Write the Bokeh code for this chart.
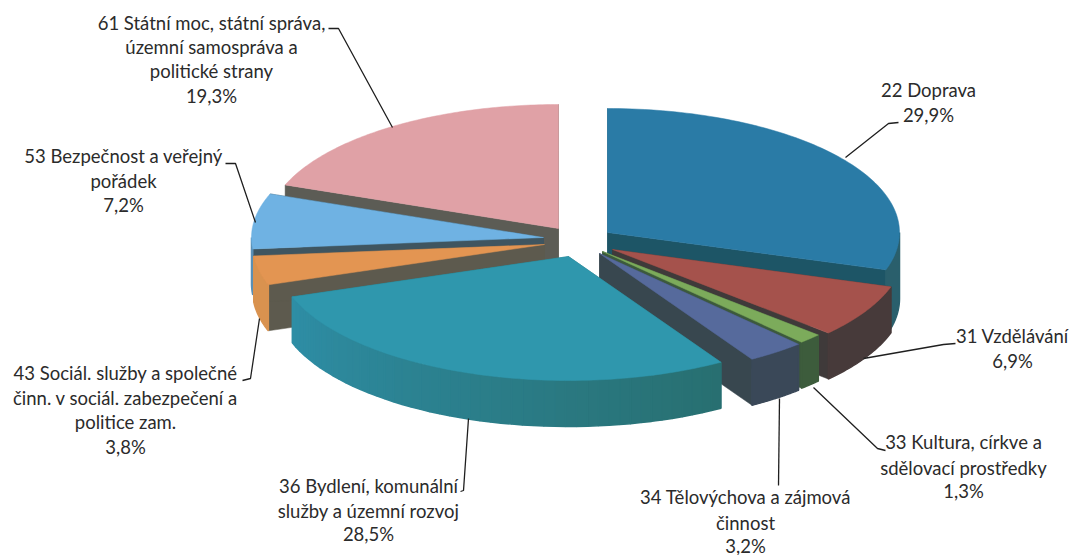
import numpy as np
from bokeh.plotting import figure
from bokeh.models import Range1d
from bokeh.core.properties import value
from bokeh.embed import file_html
from bokeh.resources import INLINE

# ---- data
codes = ["22", "31", "33", "34", "36", "43", "53", "61"]
shares = [29.9, 6.9, 1.3, 3.2, 28.5, 3.8, 7.2, 19.3]
label_lines = [
    ["22 Doprava", "29,9%"],
    ["31 Vzdělávání", "6,9%"],
    ["33 Kultura, církve a", "sdělovací prostředky", "1,3%"],
    ["34 Tělovýchova a zájmová", "činnost", "3,2%"],
    ["36 Bydlení, komunální", "služby a územní rozvoj", "28,5%"],
    ["43 Sociál. služby a společné", "činn. v sociál. zabezpečení a", "politice zam.", "3,8%"],
    ["53 Bezpečnost a veřejný", "pořádek", "7,2%"],
    ["61 Státní moc, státní správa,", "územní samospráva a", "politické strany", "19,3%"],
]

# ---- styling and layout (screen pixels of the picture)
W, H = 1069, 555
RX, RY = 292, 124
apex_x = [607, 612, 602, 599, 568, 544, 543, 558]
apex_y = [232, 249, 251, 253, 256, 244, 237, 228]
depths = [66, 46, 46, 46, 46, 46, 46, 46]
top_colors = ["#2a7ba6", "#a5524c", "#7cab5b", "#566a9c", "#2f97ad", "#e39552", "#6fb2e3", "#e0a1a6"]
cut_colors = ["#1d5566", "#3f3a3a", "#3c5a3c", "#38474f", "#2a7a80", "#5d5a4e", "#3f5560", "#5c5c55"]
rim_from = ["#2a5f6c", "#473a3a", "#3d5c3c", "#3a4858", "#2e8ea6", "#d9924f", "#5a8fb5", "#cc9096"]
rim_to = ["#2a5f6c", "#473a3a", "#3d5c3c", "#3a4858", "#286f70", "#d9924f", "#5a8fb5", "#cc9096"]
order = [7, 6, 5, 0, 1, 2, 3, 4]  # back to front

label_x = [928, 1012, 963, 745, 368, 125, 123, 211]
label_y = [[89, 114], [335, 360], [441, 467, 490], [496, 522, 545], [485, 510, 533],
           [372, 397, 421, 446], [155, 180, 204], [22, 46, 70, 95]]
leaders = [
    ([845, 888, 898], [157, 123, 122]),
    ([863, 943, 955], [358, 344, 343]),
    ([813, 877, 885], [387, 448, 450]),
    ([779, 778], [398, 485]),
    ([468, 463, 460], [418, 490, 491]),
    ([259, 250, 242], [318, 378, 380]),
    ([255, 235, 225], [222, 163, 163]),
    ([392, 338, 328], [127, 28, 28]),
]

FONT = "Lato"
FONT_SIZE = "18.5px"
TEXT_COLOR = "#2b2b2b"
LEADER = "#1f1f1f"

p = figure(width=W, height=H, x_range=Range1d(0, W), y_range=Range1d(H, 0),
           toolbar_location=None, output_backend="svg", min_border=0)
p.axis.visible = False
p.grid.visible = False
p.outline_line_color = None


def rim(i, t):
    return apex_x[i] + RX * np.sin(t), apex_y[i] - RY * np.cos(t)


def hex_mix(c1, c2, f):
    a = [int(c1[k:k + 2], 16) for k in (1, 3, 5)]
    b = [int(c2[k:k + 2], 16) for k in (1, 3, 5)]
    return "#%02x%02x%02x" % tuple(int(round(u + (v - u) * f)) for u, v in zip(a, b))


edges = np.radians(np.concatenate([[0.0], np.cumsum(shares)]) / sum(shares) * 360.0)

for i in order:
    t0, t1 = edges[i], edges[i + 1]
    d = depths[i]
    ax, ay = apex_x[i], apex_y[i]
    # cut faces that look towards the viewer
    for t in (t0, t1):
        rx, ry = rim(i, t)
        p.patch([ax, rx, rx, ax], [ay, ry, ry + d, ay + d], fill_color=cut_colors[i],
                line_color=cut_colors[i], line_width=0.5)
    # outer wall: only the front half of the rim can be seen
    lo, hi = max(t0, np.pi / 2), min(t1, 3 * np.pi / 2)
    if hi > lo:
        n = 1 if rim_from[i] == rim_to[i] else 48
        steps = np.linspace(lo, hi, n + 1)
        for k in range(n):
            ts = np.linspace(steps[k], steps[k + 1], 40 // n + 2)
            xs, ys = rim(i, ts)
            f = 1 - (k + 0.5) / n
            col = hex_mix(rim_from[i], rim_to[i], f)
            p.patch(list(xs) + list(xs[::-1]), list(ys) + list((ys + d)[::-1]),
                    fill_color=col, line_color=col, line_width=1.5)
    # top face
    ts = np.linspace(t0, t1, 90)
    xs, ys = rim(i, ts)
    p.patch([ax] + list(xs), [ay] + list(ys), fill_color=top_colors[i],
            line_color=top_colors[i], line_width=0.5)

for xs, ys in leaders:
    p.line(xs, ys, line_color=LEADER, line_width=1.3)

for i, lines in enumerate(label_lines):
    p.text([label_x[i]] * len(lines), label_y[i], text=lines, text_font=value(FONT),
           text_font_size=FONT_SIZE, text_color=TEXT_COLOR,
           text_align="center", text_baseline="alphabetic")

html = file_html(p, INLINE)
open("out.html", "w").write(html)
